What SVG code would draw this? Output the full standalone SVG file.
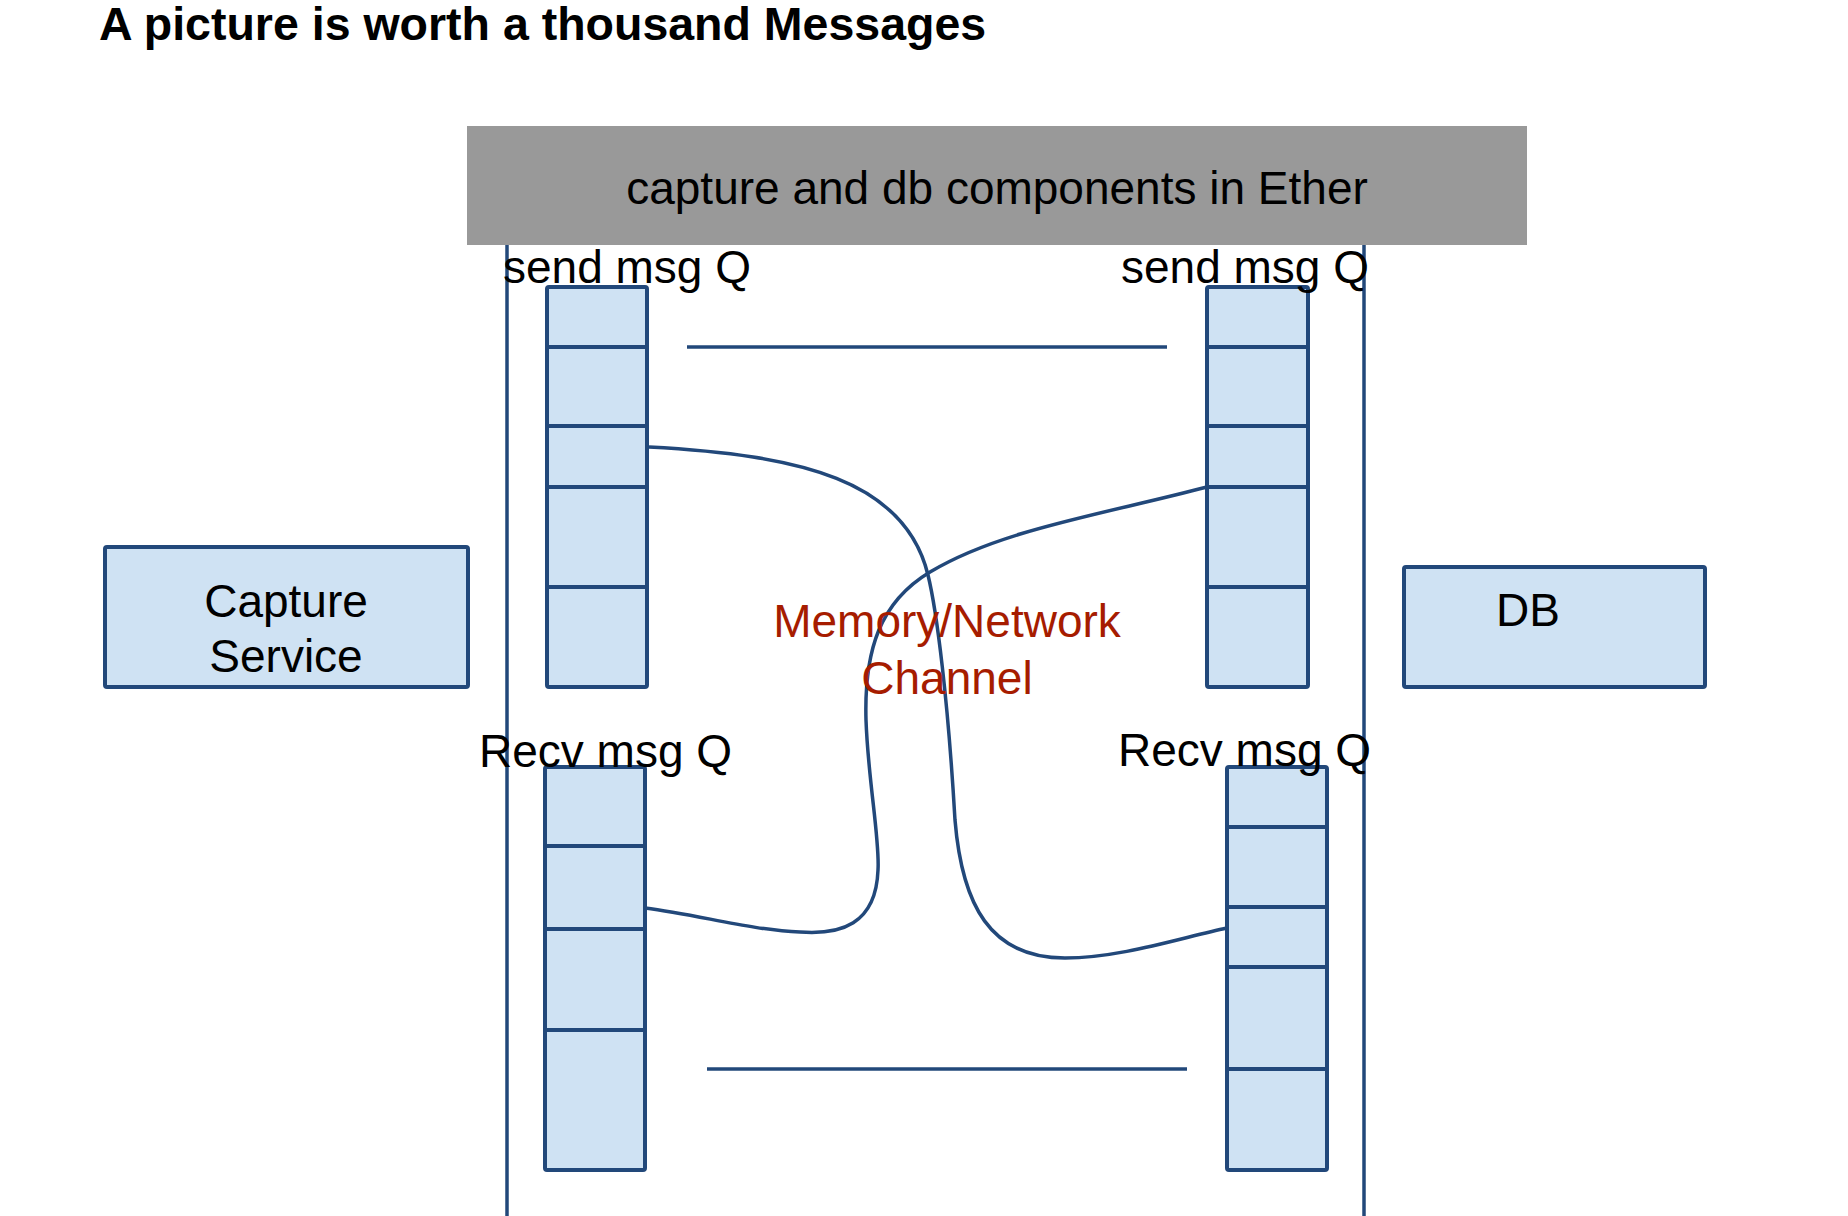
<svg xmlns="http://www.w3.org/2000/svg" width="1848" height="1216" viewBox="0 0 1848 1216">
<style>
text{font-family:"Liberation Sans",Arial,sans-serif;font-size:46px;fill:#000}
.title{font-weight:bold;font-size:46.5px}
.box{fill:#cfe2f3;stroke:#22487a;stroke-width:4;stroke-linejoin:round}
.div{stroke:#22487a;stroke-width:4}
.ln{fill:none;stroke:#22487a;stroke-width:3.5}
.red{fill:#a61c00}
.mid{text-anchor:middle}
</style>
<rect width="1848" height="1216" fill="#fff"/>
<text class="title" x="99" y="40">A picture is worth a thousand Messages</text>

<g id="ether">
<rect x="467" y="126" width="1060" height="119" fill="#999999"/>
<text class="mid" x="997" y="204">capture and db components in Ether</text>
</g>

<g id="boundaries">
<line class="ln" x1="507" y1="245" x2="507" y2="1216"/>
<line class="ln" x1="1364" y1="245" x2="1364" y2="1216"/>
<line class="ln" x1="687" y1="347" x2="1167" y2="347"/>
<line class="ln" x1="707" y1="1069" x2="1187" y2="1069"/>
</g>

<g id="capture-service">
<rect class="box" x="105" y="547" width="363" height="140" rx="2"/>
<text class="mid" x="286" y="617">Capture</text>
<text class="mid" x="286" y="672">Service</text>
</g>

<g id="db">
<rect class="box" x="1404" y="567" width="301" height="120" rx="2"/>
<text x="1496" y="626">DB</text>
</g>

<g id="left-send-q">
<rect class="box" x="547" y="287" width="100" height="400" rx="2"/>
<line class="div" x1="547" y1="347" x2="647" y2="347"/>
<line class="div" x1="547" y1="426" x2="647" y2="426"/>
<line class="div" x1="547" y1="487" x2="647" y2="487"/>
<line class="div" x1="547" y1="587" x2="647" y2="587"/>
<text x="503" y="283">send msg Q</text>
</g>

<g id="right-send-q">
<rect class="box" x="1207" y="287" width="101" height="400" rx="2"/>
<line class="div" x1="1207" y1="347" x2="1308" y2="347"/>
<line class="div" x1="1207" y1="426" x2="1308" y2="426"/>
<line class="div" x1="1207" y1="487" x2="1308" y2="487"/>
<line class="div" x1="1207" y1="587" x2="1308" y2="587"/>
<text x="1121" y="283">send msg Q</text>
</g>

<g id="left-recv-q">
<rect class="box" x="545" y="767" width="100" height="403" rx="2"/>
<line class="div" x1="545" y1="846" x2="645" y2="846"/>
<line class="div" x1="545" y1="929" x2="645" y2="929"/>
<line class="div" x1="545" y1="1030" x2="645" y2="1030"/>
<text x="479" y="767">Recv msg Q</text>
</g>

<g id="right-recv-q">
<rect class="box" x="1227" y="767" width="100" height="403" rx="2"/>
<line class="div" x1="1227" y1="827" x2="1327" y2="827"/>
<line class="div" x1="1227" y1="907" x2="1327" y2="907"/>
<line class="div" x1="1227" y1="967" x2="1327" y2="967"/>
<line class="div" x1="1227" y1="1069" x2="1327" y2="1069"/>
<text x="1118" y="766">Recv msg Q</text>
</g>

<g id="connectors">
<path class="ln" d="M649,447 C800,455 905,480 928,575 C937,612 948,700 955,820 C962,905 990,958 1065,958 C1120,958 1180,938 1227,928"/>
<path class="ln" d="M1207,487 C1100,515 1000,530 930,572 C880,602 864,650 866,720 C868,780 880,840 878,870 C876,925 840,935 800,932 C750,930 700,915 645,908"/>
</g>

<g id="channel-label">
<text class="mid red" x="947" y="637">Memory/Network</text>
<text class="mid red" x="947" y="694">Channel</text>
</g>
</svg>
